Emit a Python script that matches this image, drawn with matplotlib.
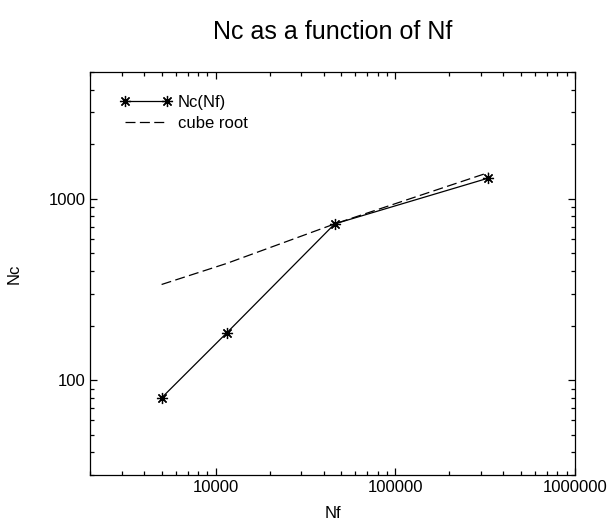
import matplotlib
matplotlib.use('Agg')
import matplotlib.pyplot as plt
from matplotlib.ticker import FuncFormatter, LogLocator

plt.rcParams['font.family'] = ['Liberation Sans', 'DejaVu Sans']

# values
nf = [5000, 11500, 46000, 330000]
nc = [80, 182, 727, 1300]
cube_root = [337, 440, 727, 1394]

fig = plt.figure(figsize=(6.09, 5.25), dpi=100)
ax = fig.add_axes([0.148, 0.095, 0.796, 0.768])

ax.plot(nf, nc, color='black', lw=0.9, marker=(8, 2, 0), markersize=8,
        markeredgewidth=0.9, label='Nc(Nf)')
ax.plot(nf, cube_root, color='black', lw=0.9, dashes=(8, 3.5), label='cube root')

ax.set_xscale('log')
ax.set_yscale('log')
ax.set_xlim(2000, 1e6)
ax.set_ylim(30, 5000)

fmt = FuncFormatter(lambda v, p: '%d' % v)
ax.xaxis.set_major_formatter(fmt)
ax.yaxis.set_major_formatter(fmt)
ax.xaxis.set_minor_locator(LogLocator(base=10, subs=range(2, 10)))
ax.yaxis.set_minor_locator(LogLocator(base=10, subs=range(2, 10)))
ax.xaxis.set_minor_formatter(FuncFormatter(lambda v, p: ''))
ax.yaxis.set_minor_formatter(FuncFormatter(lambda v, p: ''))

ax.tick_params(which='both', direction='in', top=True, right=True, labelsize=12)
ax.tick_params(which='major', length=5, width=0.9)
ax.tick_params(which='minor', length=3, width=0.9)
for s in ax.spines.values():
    s.set_linewidth(0.9)

ax.set_xlabel('Nf', fontsize=12, labelpad=8)
ax.set_ylabel('Nc', fontsize=12, labelpad=19)
ax.set_title('Nc as a function of Nf', fontsize=18, pad=24)

ax.legend(loc='upper left', frameon=False, fontsize=12, numpoints=2,
          handlelength=3.1, handletextpad=0.36, labelspacing=0.38,
          borderaxespad=0.6, bbox_to_anchor=(0.027, 0.985))

fig.savefig('out.png', dpi=100)
